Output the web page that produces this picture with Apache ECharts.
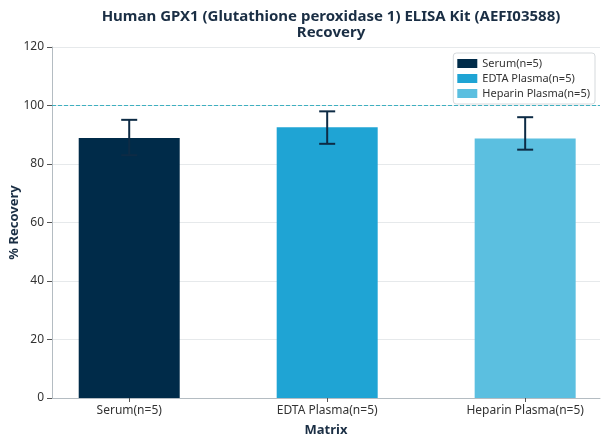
<!DOCTYPE html>
<html>
<head>
<meta charset="utf-8">
<script src="https://cdn.jsdelivr.net/npm/echarts@6/dist/echarts.min.js"></script>
<style>
  html, body { margin: 0; padding: 0; background: #fff; }
  #chart { width: 608px; height: 444px; }
</style>
</head>
<body>
<div id="chart"></div>
<script>
// 数据
var categories = ['Serum(n=5)', 'EDTA Plasma(n=5)', 'Heparin Plasma(n=5)'];
var recovery = [88.9, 92.6, 88.7];
var errLow = [83.0, 86.9, 84.9];
var errHigh = [95.1, 98.0, 96.0];
var yTicks = [0, 20, 40, 60, 80, 100, 120];
var refLine = 100;
var colors = ['#002b49', '#1fa4d4', '#5bbfe0'];

var chart = echarts.init(document.getElementById('chart'));
var font = 'Noto Sans';

// 每个类别一个柱状系列（用于图例）
var barSeries = categories.map(function (name, i) {
  return {
    name: name,
    type: 'bar',
    barWidth: 101,
    barGap: '-100%',
    itemStyle: { color: colors[i] },
    data: [[i, recovery[i]]],
    z: 2
  };
});

// 误差线 + 100% 参考线
var errData = categories.map(function (c, i) { return [i, errLow[i], errHigh[i]]; });
var errSeries = {
  type: 'custom',
  z: 5,
  data: errData,
  markLine: {
    silent: true,
    symbol: ['none', 'none'],
    label: { show: false },
    itemStyle: { color: '#3fb0c0' },
    lineStyle: { type: 'dashed', color: '#3fb0c0', width: 1, opacity: 1 },
    data: [{ yAxis: refLine, itemStyle: { color: '#3fb0c0' }, lineStyle: { color: '#3fb0c0' } }]
  },
  renderItem: function (params, api) {
    var x = api.value(0);
    var lo = api.coord([x, api.value(1)]);
    var hi = api.coord([x, api.value(2)]);
    var cap = 8;
    var style = { stroke: '#0d2b45', lineWidth: 2 };
    return {
      type: 'group',
      children: [
        { type: 'line', shape: { x1: lo[0], y1: lo[1], x2: hi[0], y2: hi[1] }, style: style },
        { type: 'line', shape: { x1: hi[0] - cap, y1: hi[1], x2: hi[0] + cap, y2: hi[1] }, style: style },
        { type: 'line', shape: { x1: lo[0] - cap, y1: lo[1], x2: lo[0] + cap, y2: lo[1] }, style: style }
      ]
    };
  }
};

var option = {
  textStyle: { fontFamily: font },
  animation: false,
  title: {
    text: 'Human GPX1 (Glutathione peroxidase 1) ELISA Kit (AEFI03588)\nRecovery',
    left: 326,
    top: 4,
    textAlign: 'center',
    textStyle: { fontFamily: font, fontSize: 15, fontWeight: 'bold', color: '#1a2e44', lineHeight: 16 }
  },
  legend: {
    data: categories,
    orient: 'vertical',
    right: 13,
    top: 53,
    icon: 'rect',
    itemWidth: 20,
    itemHeight: 9,
    itemGap: 4,
    padding: [5, 5, 5, 4],
    borderColor: '#d5d9dc',
    borderWidth: 1,
    borderRadius: 3,
    backgroundColor: '#fff',
    textStyle: { fontFamily: font, fontSize: 11, color: '#333' }
  },
  grid: { left: 52, right: 8, top: 47, bottom: 46, outerBoundsMode: 'none', containLabel: false },
  xAxis: {
    type: 'value',
    min: -0.39,
    max: 2.378,
    name: 'Matrix',
    nameLocation: 'middle',
    nameGap: 26,
    nameTextStyle: { fontFamily: font, fontSize: 13, fontWeight: 'bold', color: '#1a2e44' },
    axisLine: { onZero: false, lineStyle: { color: '#b4bcc2' } },
    axisTick: { show: true, length: 4, customValues: [0, 1, 2], lineStyle: { color: '#555' } },
    axisLabel: {
      customValues: [0, 1, 2],
      color: '#333',
      fontSize: 12,
      margin: 7,
      formatter: function (v) { return categories[Math.round(v)]; }
    },
    splitLine: { show: false }
  },
  yAxis: {
    type: 'value',
    min: yTicks[0],
    max: yTicks[yTicks.length - 1],
    interval: 20,
    name: '% Recovery',
    nameLocation: 'middle',
    nameGap: 31,
    nameMoveOverlap: false,
    nameTextStyle: { fontFamily: font, fontSize: 13, fontWeight: 'bold', color: '#1a2e44' },
    axisLine: { show: true, onZero: false, lineStyle: { color: '#b4bcc2' } },
    axisTick: { show: true, length: 5, lineStyle: { color: '#555' } },
    axisLabel: { color: '#333', fontSize: 12, margin: 8 },
    splitLine: { lineStyle: { color: '#e6e9eb' } }
  },
  series: barSeries.concat([errSeries])
};

chart.setOption(option);
</script>
</body>
</html>
